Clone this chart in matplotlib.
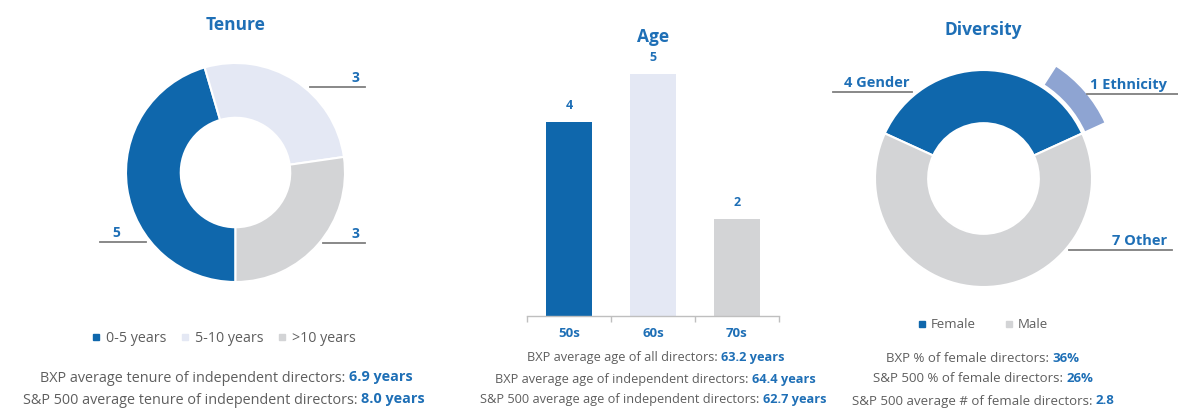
import matplotlib
matplotlib.use("Agg")
import matplotlib.pyplot as plt
from matplotlib.patches import Wedge
from matplotlib.lines import Line2D
from matplotlib.offsetbox import TextArea, HPacker, AnnotationBbox

plt.rcParams['font.family'] = ['Open Sans', 'DejaVu Sans']

# ---------------- data ----------------
tenure_labels = ['0-5 years', '5-10 years', '>10 years']
tenure_values = [5, 3, 3]

age_categories = ['50s', '60s', '70s']
age_values = [4, 5, 2]

diversity_labels = ['Female', 'Male']
diversity_values = [4, 7]
ethnicity_value = 1
diversity_slice_names = ['Gender', 'Ethnicity', 'Other']

tenure_stats = [("BXP average tenure of independent directors:", "6.9 years"),
                ("S&P 500 average tenure of independent directors:", "8.0 years")]
age_stats = [("BXP average age of all directors:", "63.2 years"),
             ("BXP average age of independent directors:", "64.4 years"),
             ("S&P 500 average age of independent directors:", "62.7 years")]
diversity_stats = [("BXP % of female directors:", "36%"),
                   ("S&P 500 % of female directors:", "26%"),
                   ("S&P 500 average # of female directors:", "2.8")]

# ---------------- style ----------------
DARK = '#0F67AC'
LIGHT = '#E4E8F4'
GREY = '#D3D4D6'
ETHN = '#8EA4D2'
TXT = '#5E5E5E'
BLUE = '#1E6FB6'
LINEC = '#7F7F7F'

W, H = 1178, 408
fig = plt.figure(figsize=(W / 100, H / 100), dpi=100)


def px_axes(cx, cy, hw, hh):
    return fig.add_axes([(cx - hw) / W, 1 - (cy + hh) / H, 2 * hw / W, 2 * hh / H])


def mixed(x, y, a, b, size):
    t1 = TextArea(a, textprops=dict(color=TXT, fontsize=size))
    t2 = TextArea(b, textprops=dict(color=BLUE, fontsize=size, fontweight='bold'))
    box = HPacker(children=[t1, t2], align='baseline', pad=0, sep=2.5)
    ab = AnnotationBbox(box, (x / W, 1 - y / H), xycoords='figure fraction',
                        frameon=False, box_alignment=(0.5, 0.5), pad=0)
    fig.add_artist(ab)


def title(x, y, s):
    fig.text(x / W, 1 - y / H, s, ha='center', va='center', color=BLUE,
             fontsize=12.5, fontweight='bold')


def leader(ax, x0, x1, y):
    ax.add_line(Line2D([x0, x1], [y, y], color=LINEC, lw=1.3, clip_on=False))


# ---------------- Tenure donut ----------------
tcx, tcy, tr = 235.5, 172.5, 109.5
axT = px_axes(tcx, tcy, 150, 150)
lim = 150 / tr
axT.pie(tenure_values, colors=[DARK, LIGHT, GREY], startangle=270, counterclock=False,
        radius=1, wedgeprops=dict(width=0.5, edgecolor='white', linewidth=1.5))
axT.set_xlim(-lim, lim)
axT.set_ylim(-lim, lim)
axT.set_aspect('equal')
axT.axis('off')
# slice labels
leader(axT, 0.68, 1.18, 0.78)
axT.text(1.13, 0.80, str(tenure_values[1]), ha='right', va='bottom', color=BLUE,
         fontsize=10, fontweight='bold')
leader(axT, 0.80, 1.18, -0.645)
axT.text(1.13, -0.625, str(tenure_values[2]), ha='right', va='bottom', color=BLUE,
         fontsize=10, fontweight='bold')
leader(axT, -1.237, -0.817, -0.635)
axT.text(-1.09, -0.615, str(tenure_values[0]), ha='center', va='bottom', color=BLUE,
         fontsize=10, fontweight='bold')
title(tcx, 25, 'Tenure')

handles = [Line2D([], [], marker='s', ls='', color=c, markersize=4.5) for c in [DARK, LIGHT, GREY]]
fig.legend(handles, tenure_labels, loc='center', bbox_to_anchor=(224 / W, 1 - 339 / H),
           ncol=3, frameon=False, handlelength=0.6, handletextpad=0.4, columnspacing=1.0,
           fontsize=10.3, labelcolor=TXT)

mixed(226, 378, *tenure_stats[0], 10.4)
mixed(224, 400, *tenure_stats[1], 10.4)

# ---------------- Age bars ----------------
scale = 48.5
top_units = 5.6
axA = fig.add_axes([527 / W, 1 - 316 / H, 252 / W, top_units * scale / H])
xs = list(range(len(age_categories)))
axA.bar(xs, age_values, width=0.54, color=[DARK, LIGHT, GREY])
axA.set_xlim(-0.5, len(age_categories) - 0.5)
axA.set_ylim(0, top_units)
for s in ['left', 'right', 'top']:
    axA.spines[s].set_visible(False)
axA.spines['bottom'].set_color('#BFBFBF')
axA.spines['bottom'].set_linewidth(1.0)
axA.set_yticks([])
axA.set_xticks(xs)
axA.set_xticklabels(age_categories, color=BLUE, fontweight='bold', fontsize=9.5)
axA.tick_params(axis='x', which='major', length=0, pad=8)
axA.set_xticks([i - 0.5 for i in range(len(age_categories) + 1)], minor=True)
axA.tick_params(axis='x', which='minor', length=4, color='#BFBFBF', width=1)
for i, v in zip(xs, age_values):
    axA.text(i, v + 0.34, str(v), ha='center', va='center', color=BLUE,
             fontsize=9, fontweight='bold')
title(653, 37, 'Age')
mixed(656, 358, *age_stats[0], 9.2)
mixed(655, 379, *age_stats[1], 9.2)
mixed(653, 400, *age_stats[2], 9.2)

# ---------------- Diversity donut ----------------
dcx, dcy, dr = 983.5, 178.5, 108.5
axD = px_axes(dcx, dcy, 160, 160)
dlim = 160 / dr
total = sum(diversity_values)
start = 90 - 180 * diversity_values[0] / total
axD.pie(diversity_values, colors=[DARK, GREY], startangle=start, counterclock=True,
        radius=1, wedgeprops=dict(width=0.49, edgecolor='white', linewidth=1.5))
axD.add_patch(Wedge((0, 0), 1.235, start, start + 360 * ethnicity_value / total,
                    width=0.21, facecolor=ETHN, edgecolor='white', linewidth=1.2))
axD.set_xlim(-dlim, dlim)
axD.set_ylim(-dlim, dlim)
axD.set_aspect('equal')
axD.axis('off')
leader(axD, -1.387, -0.659, 0.797)
axD.text(-0.685, 0.815, f"{diversity_values[0]} {diversity_slice_names[0]}", ha='right',
         va='bottom', color=BLUE, fontsize=10.5, fontweight='bold', clip_on=False)
leader(axD, 0.954, 1.793, 0.779)
axD.text(1.69, 0.80, f"{ethnicity_value} {diversity_slice_names[1]}", ha='right',
         va='bottom', color=BLUE, fontsize=10.5, fontweight='bold', clip_on=False)
leader(axD, 0.788, 1.737, -0.659)
axD.text(1.69, -0.64, f"{diversity_values[1]} {diversity_slice_names[2]}", ha='right',
         va='bottom', color=BLUE, fontsize=10.5, fontweight='bold', clip_on=False)
title(dcx, 30, 'Diversity')

handles2 = [Line2D([], [], marker='s', ls='', color=c, markersize=4.5) for c in [DARK, GREY]]
fig.legend(handles2, diversity_labels, loc='center', bbox_to_anchor=(983 / W, 1 - 325 / H),
           ncol=2, frameon=False, handlelength=0.6, handletextpad=0.4, columnspacing=2.2,
           fontsize=9.5, labelcolor=TXT)

mixed(983, 358, *diversity_stats[0], 9.5)
mixed(983, 379, *diversity_stats[1], 9.5)
mixed(983, 401, *diversity_stats[2], 9.5)

fig.savefig('out.png', dpi=100)
